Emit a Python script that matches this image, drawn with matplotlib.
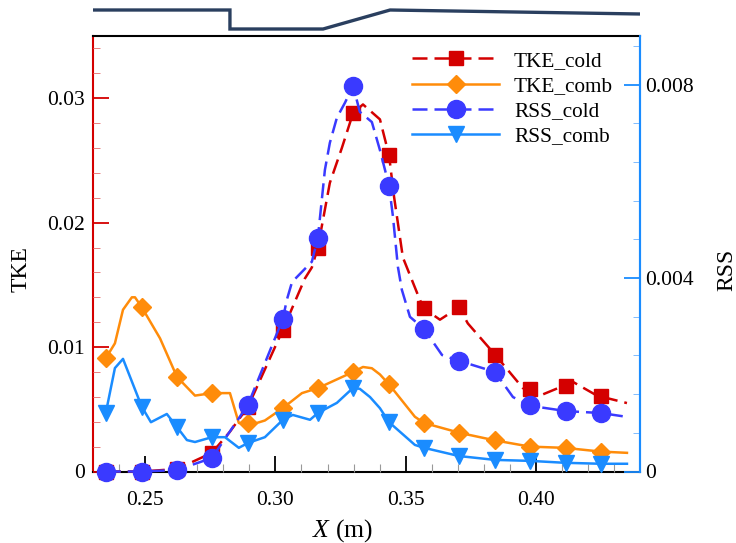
import matplotlib
matplotlib.use('Agg')
import matplotlib.pyplot as plt
from matplotlib.lines import Line2D
from matplotlib.ticker import FixedLocator, MultipleLocator

plt.rcParams['font.family'] = ['Liberation Serif', 'DejaVu Serif']
plt.rcParams['mathtext.fontset'] = 'custom'
plt.rcParams['mathtext.it'] = 'Liberation Serif:italic'
plt.rcParams['mathtext.rm'] = 'Liberation Serif'

# positions of the symbols along the wall
marker_x = [0.2350, 0.2488, 0.2623, 0.2757, 0.2895, 0.3029, 0.3163, 0.3298,
            0.3436, 0.3570, 0.3704, 0.3842, 0.3976, 0.4114, 0.4248]

tke_cold_m = [0.0, 0.0, 0.0002, 0.0015, 0.0052, 0.0114, 0.0180, 0.0288,
              0.0254, 0.0131, 0.0132, 0.0094, 0.0066, 0.0069, 0.0061]
tke_comb_m = [0.0091, 0.0132, 0.0076, 0.0063, 0.0039, 0.0051, 0.0067, 0.0080,
              0.0070, 0.0039, 0.0031, 0.0025, 0.0020, 0.0019, 0.0016]
rss_cold_m = [0.0, 0.0, 0.00003, 0.00028, 0.00138, 0.00316, 0.00483, 0.00798,
              0.00591, 0.00295, 0.00229, 0.00206, 0.00138, 0.00125, 0.00121]
rss_comb_m = [0.00121, 0.00134, 0.00092, 0.00071, 0.00059, 0.00107, 0.00121, 0.00173,
              0.00102, 0.00049, 0.00032, 0.00024, 0.00022, 0.00018, 0.00016]

# the curves
tke_cold_x = [0.2350, 0.2488, 0.2623, 0.2757, 0.2826, 0.2895, 0.3029, 0.3113, 0.3140,
              0.3163, 0.3209, 0.3255, 0.3298, 0.3336, 0.3401, 0.3436, 0.3455, 0.3489,
              0.3554, 0.3570, 0.3631, 0.3704, 0.3738, 0.3842, 0.3949, 0.3976, 0.4026,
              0.4141, 0.4233, 0.4348]
tke_cold_y = [0.0, 0.0, 0.0002, 0.0015, 0.0032, 0.0052, 0.0114, 0.0155, 0.0164,
              0.0180, 0.0232, 0.0260, 0.0288, 0.0295, 0.0283, 0.0254, 0.0221, 0.0172,
              0.0138, 0.0131, 0.0122, 0.0132, 0.0119, 0.0094, 0.0067, 0.0066, 0.0062,
              0.0072, 0.0061, 0.0055]

tke_comb_x = [0.2350, 0.2385, 0.2416, 0.2450, 0.2462, 0.2488, 0.2558, 0.2623, 0.2692,
              0.2757, 0.2826, 0.2860, 0.2895, 0.2929, 0.2960, 0.3029, 0.3102, 0.3163,
              0.3298, 0.3336, 0.3370, 0.3401, 0.3436, 0.3535, 0.3570, 0.3708, 0.3842,
              0.3976, 0.4110, 0.4248, 0.4348]
tke_comb_y = [0.0091, 0.0103, 0.0130, 0.0140, 0.0140, 0.0132, 0.0107, 0.0076, 0.0061,
              0.0063, 0.0063, 0.0039, 0.0039, 0.0039, 0.0041, 0.0051, 0.0063, 0.0067,
              0.0080, 0.0084, 0.0083, 0.0078, 0.0070, 0.0044, 0.0039, 0.0031, 0.0025,
              0.0020, 0.0019, 0.0016, 0.0015]

rss_cold_x = [0.2350, 0.2488, 0.2623, 0.2757, 0.2895, 0.3029, 0.3044, 0.3064, 0.3102,
              0.3140, 0.3163, 0.3190, 0.3209, 0.3236, 0.3267, 0.3298, 0.3324, 0.3370,
              0.3401, 0.3436, 0.3451, 0.3470, 0.3485, 0.3516, 0.3570, 0.3639, 0.3704,
              0.3842, 0.3911, 0.3976, 0.4114, 0.4179, 0.4248, 0.4348]
rss_cold_y = [0.0, 0.0, 0.00003, 0.00028, 0.00138, 0.00316, 0.00355, 0.00392, 0.00413,
              0.00434, 0.00483, 0.00624, 0.0068, 0.00732, 0.00763, 0.00798, 0.00744, 0.00723,
              0.00665, 0.00591, 0.00527, 0.00423, 0.00376, 0.0032, 0.00295, 0.00241, 0.00229,
              0.00206, 0.00154, 0.00136, 0.00125, 0.00123, 0.00121, 0.00113]

rss_comb_x = [0.2350, 0.2385, 0.2416, 0.2488, 0.2523, 0.2584, 0.2623, 0.2661, 0.2692,
              0.2757, 0.2807, 0.2860, 0.2895, 0.2960, 0.3029, 0.3067, 0.3133, 0.3163,
              0.3236, 0.3298, 0.3324, 0.3363, 0.3401, 0.3436, 0.3535, 0.3570, 0.3704,
              0.3842, 0.3976, 0.4110, 0.4248, 0.4348]
rss_comb_y = [0.00121, 0.00214, 0.00233, 0.00134, 0.00102, 0.00119, 0.00092, 0.00065, 0.00061,
              0.00071, 0.00071, 0.00049, 0.00059, 0.00071, 0.00107, 0.00117, 0.00107, 0.00121,
              0.00142, 0.00173, 0.00171, 0.00154, 0.00131, 0.00102, 0.00055, 0.00049, 0.00032,
              0.00024, 0.00022, 0.00018, 0.00016, 0.00016]

# wall profile strip over the plot
wall_x = [0.2301, 0.2826, 0.2826, 0.3183, 0.3440, 0.4398]
wall_y = [26, 26, 7, 7, 26, 22]

red = '#d40000'
orange = '#ff8c0a'
blue = '#3a3aff'
sky = '#1a8cff'
navy = '#2a3f5f'
dash = (0, (6, 2.8))

W, H = 736, 543
fig = plt.figure(figsize=(W / 100, H / 100), dpi=100)
ax = fig.add_axes([93 / W, 1 - 471.5 / H, 547 / W, 435.5 / H])
ax2 = ax.twinx()
strip = fig.add_axes([93 / W, 1 - 36 / H, 547 / W, 36 / H])

ax.plot(tke_cold_x, tke_cold_y, color=red, lw=1.8, ls=dash, clip_on=False)
ax.plot(marker_x, tke_cold_m, color=red, ls='none', marker='s', ms=9.5, clip_on=False)
ax.plot(tke_comb_x, tke_comb_y, color=orange, lw=1.8, clip_on=False)
ax.plot(marker_x, tke_comb_m, color=orange, ls='none', marker='D', ms=8.7, clip_on=False)

ax2.plot(rss_cold_x, rss_cold_y, color=blue, lw=1.8, ls=dash, clip_on=False)
ax2.plot(marker_x, rss_cold_m, color=blue, ls='none', marker='o', ms=13, clip_on=False)
ax2.plot(rss_comb_x, rss_comb_y, color=sky, lw=1.8, clip_on=False)
ax2.plot(marker_x, rss_comb_m, color=sky, ls='none', marker='v', ms=11, clip_on=False)

ax.set_xlim(0.2301, 0.4398)
ax.set_ylim(0, 0.035)
ax2.set_ylim(0, 0.00901)

ax.xaxis.set_major_locator(FixedLocator([0.25, 0.30, 0.35, 0.40]))
ax.xaxis.set_minor_locator(MultipleLocator(0.01))
ax.set_xticklabels(['0.25', '0.30', '0.35', '0.40'])
ax.yaxis.set_major_locator(FixedLocator([0, 0.01, 0.02, 0.03]))
ax.yaxis.set_minor_locator(MultipleLocator(0.002))
ax.set_yticklabels(['0', '0.01', '0.02', '0.03'])
ax2.yaxis.set_major_locator(FixedLocator([0, 0.004, 0.008]))
ax2.yaxis.set_minor_locator(MultipleLocator(0.0008))
ax2.set_yticklabels(['0', '0.004', '0.008'])

ax.tick_params(axis='x', which='major', direction='in', length=11.5, width=1.3,
               color='black', labelsize=15.5, pad=14)
ax.tick_params(axis='x', which='minor', direction='in', length=6, width=0.8, color='#999999')
ax.tick_params(axis='y', which='major', direction='in', length=11.5, width=1.3,
               color=red, labelsize=15.5, pad=6)
ax.tick_params(axis='y', which='minor', direction='in', length=5, width=0.7, color='#e88080')
ax2.tick_params(axis='y', which='major', direction='in', length=11.5, width=1.3,
                color=sky, labelsize=15.5, pad=4)
ax2.tick_params(axis='y', which='minor', direction='in', length=5, width=0.7, color='#80bcff')

for s in ax.spines.values():
    s.set_linewidth(1.5)
    s.set_zorder(1)
ax.spines['left'].set_color(red)
ax.spines['right'].set_color(sky)
ax2.spines['right'].set_color(sky)
ax2.spines['right'].set_linewidth(1.5)
for side in ('left', 'top', 'bottom'):
    ax2.spines[side].set_visible(False)

ax.set_xlabel(r'$\mathit{X}$ (m)', fontsize=18.5)
ax.xaxis.set_label_coords((342.5 - 93) / 547, -(517 - 471.5) / 435.5)
ax.set_ylabel('TKE', fontsize=17)
ax.yaxis.set_label_coords((32 - 93) / 547, (471.5 - 269.5) / 435.5)
ax2.set_ylabel('RSS', fontsize=17)
ax2.yaxis.set_label_coords((716 - 93) / 547, (471.5 - 269.5) / 435.5)

strip.plot(wall_x, wall_y, color=navy, lw=2.4, solid_joinstyle='miter', solid_capstyle='butt')
strip.set_xlim(0.2301, 0.4398)
strip.set_ylim(0, 36)
strip.axis('off')

handles = [
    Line2D([], [], color=red, lw=1.8, ls=dash, marker='s', ms=9.5),
    Line2D([], [], color=orange, lw=1.8, marker='D', ms=8.7),
    Line2D([], [], color=blue, lw=1.8, ls=dash, marker='o', ms=13),
    Line2D([], [], color=sky, lw=1.8, marker='v', ms=11),
]
ax2.legend(handles, ['TKE_cold', 'TKE_comb', 'RSS_cold', 'RSS_comb'],
           loc='upper left', bbox_to_anchor=((412 - 93) / 547, (471.5 - 51) / 435.5),
           frameon=False, fontsize=15.3, numpoints=1, handlelength=4.1, handletextpad=0.7,
           labelspacing=0.25, borderaxespad=0, borderpad=0)

fig.savefig('out.png', dpi=100)
